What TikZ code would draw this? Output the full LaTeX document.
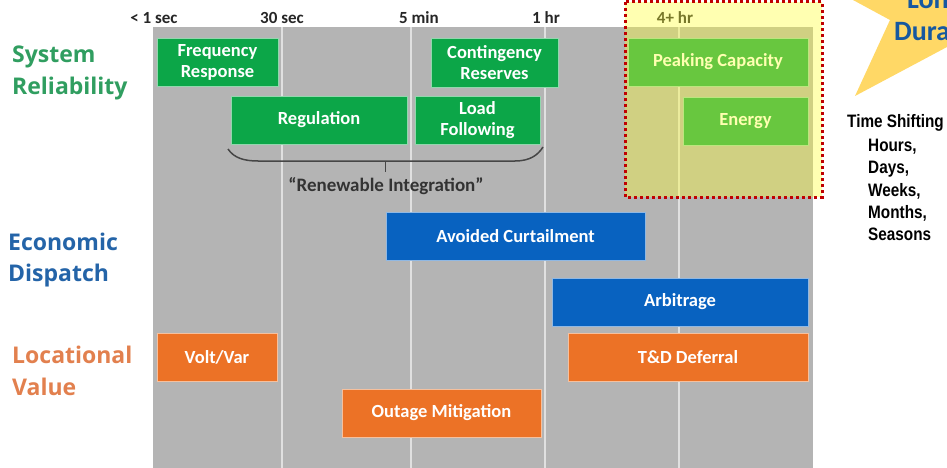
\documentclass[tikz,border=0pt]{standalone}
\usepackage{fontspec}
\newfontfamily\carl{Carlito}
\newfontfamily\opens{Open Sans}
\newfontfamily\narrow[FakeStretch=0.85]{Liberation Sans}
\definecolor{cgray}{RGB}{180,180,180}
\definecolor{cline}{RGB}{224,224,224}
\definecolor{cgreen}{RGB}{12,166,72}
\definecolor{cblue}{RGB}{8,98,192}
\definecolor{corange}{RGB}{236,114,38}
\definecolor{labgreen}{RGB}{48,158,96}
\definecolor{labblue}{RGB}{36,100,168}
\definecolor{laborange}{RGB}{226,128,78}
\definecolor{starfill}{RGB}{255,216,102}
\definecolor{startext}{RGB}{22,88,160}
\definecolor{dred}{RGB}{192,0,0}
\definecolor{hiyellow}{RGB}{255,255,50}
\definecolor{bracec}{RGB}{70,70,70}
\begin{document}
\begin{tikzpicture}[x=1pt,y=-1pt,
  box/.style={line width=0.8pt, text=white, align=center, inner sep=0pt,
    font=\carl\bfseries\fontsize{18.5}{21}\selectfont},
  gbox/.style={box, fill=cgreen, draw=cgreen!45!white},
  bbox/.style={box, fill=cblue, draw=cblue!45!white},
  obox/.style={box, fill=corange, draw=corange!45!white},
  rowlab/.style={anchor=base west, inner sep=0pt, font=\opens\bfseries\fontsize{23}{23}\selectfont},
  timelab/.style={anchor=base, inner sep=0pt, text=black!85, font=\carl\bfseries\fontsize{17}{17}\selectfont},
  vline/.style={draw=cline, line width=2pt},
  side/.style={anchor=base west, inner sep=0pt, text=black, font=\narrow\bfseries\fontsize{18}{18}\selectfont},
  startxt/.style={anchor=base west, inner sep=0pt, text=startext, font=\carl\bfseries\fontsize{28}{28}\selectfont}
]
\useasboundingbox (0,0) rectangle (947,468);
\clip (0,0) rectangle (947,468);
\fill[white] (0,0) rectangle (947,468);

% gray chart background
\fill[cgray] (153,27) rectangle (813,468);
\foreach \xx/\nm in {282/a,411/b,545/c,679/d}{
  \coordinate (top\nm) at (\xx,27);
  \coordinate (bot\nm) at (\xx,468);
  \draw[vline] (top\nm) -- (bot\nm);
}

% time labels
\node[timelab] (t1) at (154,24) {< 1 sec};
\node[timelab] (t2) at (282,24) {30 sec};
\node[timelab] (t3) at (419,24) {5 min};
\node[timelab] (t4) at (546,24) {1 hr};
\node[timelab] (t5) at (675,24) {4+ hr};

% row labels
\node[rowlab, text=labgreen] (sys) at (12,63) {System};
\node[rowlab, text=labgreen] (rel) at (12,95) {Reliability};
\node[rowlab, text=labblue] (eco) at (8,250) {Economic};
\node[rowlab, text=labblue] (dis) at (8,281) {Dispatch};
\node[rowlab, text=laborange] (loc) at (12,363) {Locational};
\node[rowlab, text=laborange] (val) at (12,395) {Value};

% boxes
\node[gbox, minimum width=121pt, minimum height=48pt] (freq) at (217.5,62) {Frequency\\Response};
\node[gbox, minimum width=127pt, minimum height=49pt] (cont) at (494.5,62.5) {Contingency\\Reserves};
\node[gbox, minimum width=180pt, minimum height=48pt] (peak) at (718,62) {Peaking Capacity};
\node[gbox, minimum width=176pt, minimum height=48pt] (reg) at (319,120) {Regulation};
\node[gbox, minimum width=125pt, minimum height=48pt] (load) at (477.5,120) {Load\\Following};
\node[gbox, minimum width=125pt, minimum height=48pt] (energy) at (745.5,121) {Energy};
\node[bbox, minimum width=259pt, minimum height=48pt] (avoid) at (515.5,236) {Avoided Curtailment};
\node[bbox, minimum width=256pt, minimum height=48pt] (arb) at (680,302) {Arbitrage};
\node[obox, minimum width=120pt, minimum height=48pt] (volt) at (217,357) {Volt/Var};
\node[obox, minimum width=240pt, minimum height=48pt] (td) at (688,357) {T\&D Deferral};
\node[obox, minimum width=199pt, minimum height=48pt] (outage) at (441.5,413) {Outage Mitigation};

% brace
\coordinate (bl) at (228,149);
\coordinate (br) at (543,147);
\coordinate (bm) at (385,161);
\coordinate (bt) at (385,172);
\draw[bracec, line width=1.5pt] (bl) .. controls (234,158) and (244,161) .. (258,161)
  -- (bm) -- (515,161) .. controls (530,161) and (538,155) .. (br);
\draw[bracec, line width=1pt] (bm) -- (bt);
\node[inner sep=0pt, text=black!80, font=\carl\bfseries\fontsize{19}{19}\selectfont] (ri) at (386,186) {“Renewable Integration”};

% long-duration highlight
\fill[hiyellow, fill opacity=0.38] (625,2) rectangle (822,197);
\draw[dred, line width=3pt, dash pattern=on 3pt off 3pt] (625,2) rectangle (822,197);

% star
\fill[starfill] (816,-20) -- (890,20) -- (855,96) -- (947,47) -- (1000,20) -- (1000,-40) -- cycle;
\node[startxt] (long) at (907,9) {Long};
\node[startxt] (dur) at (894,41) {Duration};

% time shifting text
\node[side] (ts) at (847,128) {Time Shifting};
\node[side] (hrs) at (868,151) {Hours,};
\node[side] (days) at (868,173) {Days,};
\node[side] (wks) at (868,196) {Weeks,};
\node[side] (mon) at (868,218) {Months,};
\node[side] (sea) at (868,240) {Seasons};
\end{tikzpicture}
\end{document}
